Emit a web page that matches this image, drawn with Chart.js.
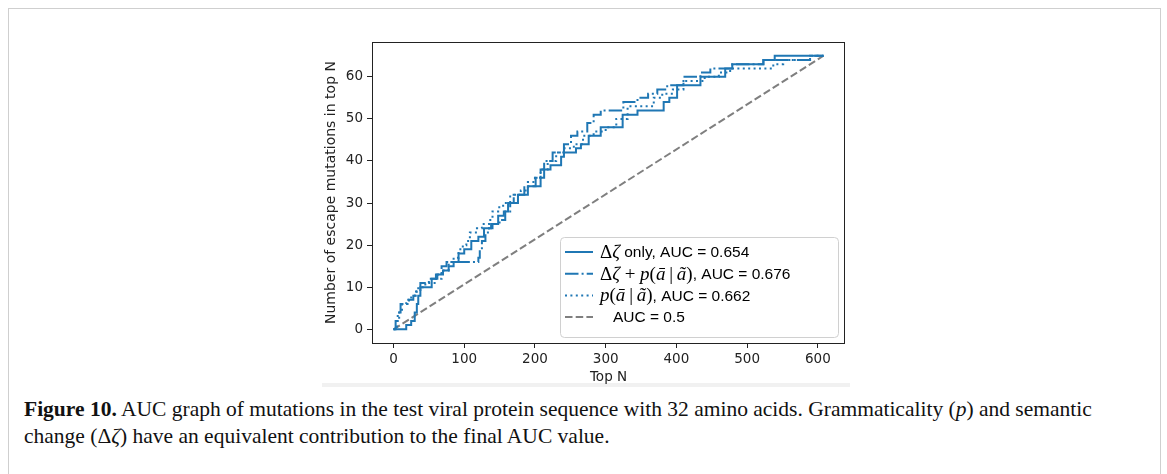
<!DOCTYPE html>
<html>
<head>
<meta charset="utf-8">
<script src="https://cdn.jsdelivr.net/npm/chart.js@4.4.1/dist/chart.umd.min.js"></script>
<style>
  html, body { margin: 0; padding: 0; background: #fff; }
  body { width: 1167px; height: 474px; position: relative; overflow: hidden; }
  #frame { position: absolute; left: 8px; top: 8px; width: 1151px; height: 480px; border: 1px solid #cfcfcf; border-bottom: none; }
  #strip { position: absolute; left: 322px; top: 383px; width: 528px; height: 4px; background: #f1f1f1; }
  #figure { position: absolute; left: 322px; top: 30px; width: 528px; height: 356px; }
  #caption { position: absolute; left: 24px; top: 396px; white-space: nowrap; font-family: "Liberation Serif", serif; font-size: 21.5px; line-height: 27px; color: #111; }
</style>
</head>
<body>
<div id="frame"></div>
<div id="strip"></div>
<div id="figure"><canvas id="auc"></canvas></div>
<div id="caption"><b>Figure 10.</b> AUC graph of mutations in the test viral protein sequence with 32 amino acids. Grammaticality (<i>p</i>) and semantic<br>change (Δ<i>ζ</i>) have an equivalent contribution to the final AUC value.</div>
<script>
'use strict';

// Axis ticks
var X_TICKS = [0, 100, 200, 300, 400, 500, 600];
var Y_TICKS = [0, 10, 20, 30, 40, 50, 60];

// Δζ only : top N where the count goes up, and the count
var SOLID_X = [0, 18, 25, 30, 33, 35, 38, 54, 62, 70, 78, 85, 92, 100, 110, 120, 128, 138, 148, 156, 162, 176, 190, 208, 213, 222, 237, 241, 258, 265, 276, 293, 324, 345, 382, 390, 401, 434, 469, 479, 523, 539, 608];
var SOLID_Y = [0, 1, 2, 4, 6, 8, 10, 12, 13, 14, 15, 16, 18, 19, 21, 22, 24, 25, 27, 28, 30, 32, 34, 36, 38, 39, 41, 42, 43, 44, 46, 48, 51, 52, 54, 55, 58, 60, 62, 63, 64, 65, 65];

// Δζ + p(ā|ã)
var DASHDOT_X = [0, 3, 6, 10, 22, 28, 33, 38, 50, 60, 68, 75, 120, 122, 125, 130, 135, 140, 150, 158, 165, 170, 185, 201, 208, 213, 225, 241, 251, 260, 274, 283, 293, 325, 345, 360, 373, 387, 410, 434, 448, 479, 523, 589, 608];
var DASHDOT_Y = [0, 2, 4, 6, 7, 8, 9, 11, 12, 13, 15, 16, 17, 19, 21, 23, 24, 25, 26, 28, 30, 32, 34, 36, 38, 40, 42, 44, 46, 47, 49, 51, 52, 54, 55, 56, 57, 58, 60, 61, 62, 63, 64, 65, 65];

// p(ā|ã)
var DOTTED_X = [0, 5, 8, 12, 18, 25, 30, 35, 45, 60, 68, 78, 85, 92, 98, 103, 108, 118, 125, 135, 140, 148, 155, 165, 180, 190, 200, 208, 218, 230, 240, 255, 268, 283, 300, 315, 331, 368, 380, 395, 410, 440, 460, 476, 537, 551, 589, 608];
var DOTTED_Y = [0, 2, 4, 6, 7, 8, 9, 10, 11, 12, 14, 16, 17, 19, 20, 21, 23, 24, 25, 26, 28, 29, 30, 32, 33, 35, 36, 38, 40, 42, 43, 44, 46, 47, 48, 50, 53, 55, 56, 57, 59, 60, 61, 62, 63, 64, 65, 65];

// random baseline
var DIAG_X = [0, 608];
var DIAG_Y = [0, 65];

// legend rows, as [style, text] pieces: s = sans, m = math upright, mi = math italic
var LEGEND_ROWS = [
    [['m', 'Δ'], ['mi', 'ζ'], ['s', ' only, AUC = 0.654']],
    [['m', 'Δ'], ['mi', 'ζ'], ['m', ' + '], ['mi', 'p'], ['m', '('], ['mi', 'ā'], ['m', '\u2009|\u2009'], ['mi', 'ã'], ['m', ')'], ['s', ', AUC = 0.676']],
    [['mi', 'p'], ['m', '('], ['mi', 'ā'], ['m', '\u2009|\u2009'], ['mi', 'ã'], ['m', ')'], ['s', ', AUC = 0.662']],
    [['s', '   AUC = 0.5']]
];

var BLUE = '#1f77b4';
var GREY = '#7f7f7f';
var INK = '#222222';

function toPoints(xs, ys) {
    var pts = [];
    for (var i = 0; i < xs.length; i++) {
        pts.push({x: xs[i], y: ys[i]});
    }
    return pts;
}

// spines on all four sides
var framePlugin = {
    id: 'frameBox',
    afterDraw: function(chart) {
        var a = chart.chartArea, ctx = chart.ctx;
        ctx.save();
        ctx.strokeStyle = INK;
        ctx.lineWidth = 1;
        ctx.setLineDash([]);
        ctx.strokeRect(Math.round(a.left) + 0.5, Math.round(a.top) + 0.5, Math.round(a.right - a.left) - 1, Math.round(a.bottom - a.top));
        ctx.restore();
    }
};

var FONTS = {
    s: '15.5px "Liberation Sans"',
    m: '19px "Liberation Serif"',
    mi: 'italic 19px "Liberation Serif"'
};

// legend with mixed math / sans text, lower right
var legendPlugin = {
    id: 'mathLegend',
    afterDraw: function(chart) {
        var a = chart.chartArea, ctx = chart.ctx;
        var w = 278, h = 100;
        var left = a.right - 7 - w, top = a.bottom - 6 - h;
        ctx.save();
        ctx.beginPath();
        ctx.roundRect(left + 0.5, top + 0.5, w, h, 4);
        ctx.fillStyle = 'rgba(255,255,255,0.8)';
        ctx.fill();
        ctx.strokeStyle = '#d0d0d0';
        ctx.lineWidth = 1;
        ctx.stroke();

        chart.data.datasets.forEach(function(ds, i) {
            var y = top + 15 + i * 21.7;
            ctx.beginPath();
            ctx.setLineDash(ds.borderDash || []);
            ctx.strokeStyle = ds.borderColor;
            ctx.lineWidth = ds.borderWidth;
            ctx.moveTo(left + 5, y);
            ctx.lineTo(left + 33, y);
            ctx.stroke();
            ctx.setLineDash([]);

            var x = left + 40;
            ctx.fillStyle = '#000';
            ctx.textBaseline = 'middle';
            ctx.textAlign = 'left';
            LEGEND_ROWS[i].forEach(function(piece) {
                ctx.font = FONTS[piece[0]];
                ctx.fillText(piece[1], x, y + 1);
                x += ctx.measureText(piece[1]).width;
            });
        });
        ctx.restore();
    }
};

var tickFont = {family: 'DejaVu Sans', size: 13.5};
var titleFont = {family: 'DejaVu Sans', size: 13.5};
var yTitleFont = {family: 'DejaVu Sans', size: 14};

var config = {
    type: 'line',
    data: {
        datasets: [
            {
                label: 'Δζ only, AUC = 0.654',
                data: toPoints(SOLID_X, SOLID_Y),
                borderColor: BLUE,
                borderWidth: 2,
                stepped: 'before'
            },
            {
                label: 'Δζ + p(ā|ã), AUC = 0.676',
                data: toPoints(DASHDOT_X, DASHDOT_Y),
                borderColor: BLUE,
                borderWidth: 2,
                borderDash: [13.5, 3.1, 2, 3.1],
                stepped: 'before'
            },
            {
                label: 'p(ā|ã), AUC = 0.662',
                data: toPoints(DOTTED_X, DOTTED_Y),
                borderColor: BLUE,
                borderWidth: 2,
                borderDash: [2, 3.4],
                stepped: 'before'
            },
            {
                label: 'AUC = 0.5',
                data: toPoints(DIAG_X, DIAG_Y),
                borderColor: GREY,
                borderWidth: 2,
                borderDash: [7.5, 3.2]
            }
        ]
    },
    options: {
        responsive: true,
        maintainAspectRatio: false,
        animation: false,
        devicePixelRatio: 1,
        layout: {padding: {left: 0, right: 5, top: 5, bottom: 0}},
        elements: {point: {radius: 0}, line: {tension: 0, fill: false}},
        plugins: {
            legend: {display: false},
            tooltip: {enabled: false}
        },
        scales: {
            x: {
                type: 'linear',
                min: -30.4,
                max: 638.4,
                afterBuildTicks: function(scale) {
                    scale.ticks = X_TICKS.map(function(v) { return {value: v}; });
                },
                afterFit: function(scale) { scale.height = 43; },
                grid: {drawOnChartArea: false, drawTicks: true, tickLength: 5, color: INK, lineWidth: 1},
                border: {display: false},
                ticks: {font: tickFont, color: INK, padding: 3, maxRotation: 0},
                title: {display: true, text: 'Top N', font: titleFont, color: INK, padding: {top: 0, bottom: 0}}
            },
            y: {
                type: 'linear',
                min: -3.25,
                max: 68.25,
                afterBuildTicks: function(scale) {
                    scale.ticks = Y_TICKS.map(function(v) { return {value: v}; });
                },
                afterFit: function(scale) { scale.width = 50; },
                grid: {drawOnChartArea: false, drawTicks: true, tickLength: 5, color: INK, lineWidth: 1},
                border: {display: false},
                ticks: {font: tickFont, color: INK, padding: 4},
                title: {display: true, text: 'Number of escape mutations in top N', font: yTitleFont, color: INK, padding: {top: 1, bottom: 0}}
            }
        }
    },
    plugins: [framePlugin, legendPlugin]
};

new Chart(document.getElementById('auc').getContext('2d'), config);
</script>
</body>
</html>
